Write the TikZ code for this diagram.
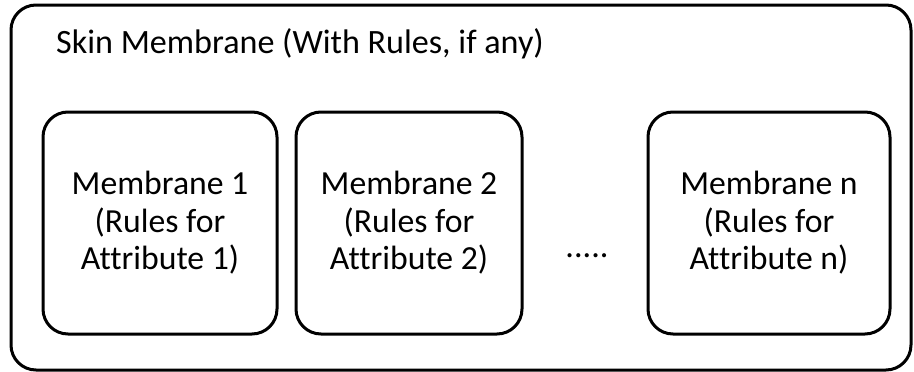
\documentclass[tikz,border=0pt]{standalone}
\usepackage{fontspec}
\setmainfont{Carlito}[Ligatures=NoCommon]
\begin{document}
\begin{tikzpicture}[x=1pt,y=-1pt,
  membrane/.style={draw=black,line width=3pt,rounded corners=25pt,
    inner sep=0pt,align=center,
    font=\fontsize{33.7}{37.5}\selectfont},
  label/.style={inner sep=0pt,font=\fontsize{34.1}{37.5}\selectfont}]
  \useasboundingbox (0,0) rectangle (914,372);
  % outer skin membrane
  \node[membrane,minimum width=900pt,minimum height=365pt] (skin) at (461,187.5) {};
  \node[label,anchor=base west] (title) at (56,53) {Skin Membrane (With Rules, if any)};
  % inner membranes
  \node[membrane,minimum width=234pt,minimum height=222pt] (m1) at (160,223)
    {Membrane 1\\(Rules for\\Attribute 1)};
  \node[membrane,minimum width=226pt,minimum height=222pt] (m2) at (409,223)
    {Membrane 2\\(Rules for\\Attribute 2)};
  \node[label,anchor=base] (dots) at (587,257) {.....};
  \node[membrane,minimum width=242pt,minimum height=222pt] (mn) at (769,223)
    {Membrane n\\(Rules for\\Attribute n)};
\end{tikzpicture}
\end{document}
